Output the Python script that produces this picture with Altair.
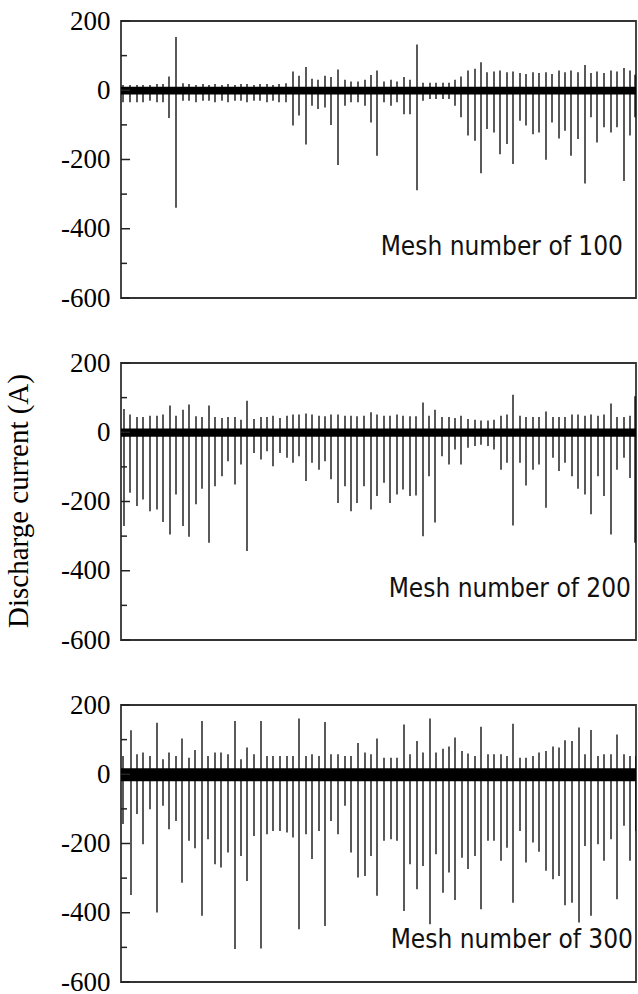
import altair as alt
import pandas as pd

# ---------------- data ----------------
panel_labels = ["Mesh number of 100", "Mesh number of 200", "Mesh number of 300"]

# event times (a.u.), positive peak (A), negative peak (A)
t_100 = [2, 9, 16, 22, 29, 36, 42, 48, 55, 62, 68, 75, 82, 88, 94, 101, 107, 114, 120, 126,
         133, 139, 146, 152, 158, 165, 172, 178, 185, 191, 197, 204, 210, 217, 224, 230, 237, 244, 250, 256,
         263, 270, 276, 283, 289, 296, 302, 309, 315, 322, 328, 334, 340, 347, 354, 360, 366, 373, 379, 386,
         392, 399, 405, 412, 418, 425, 431, 438, 444, 450, 457, 464, 470, 476, 483, 490, 496, 503, 509, 514]
pos_100 = [15, 15, 15, 15, 15, 18, 18, 40, 154, 20, 18, 15, 18, 15, 18, 15, 18, 15, 18, 18,
           15, 18, 18, 15, 18, 20, 54, 42, 67, 33, 30, 42, 38, 60, 30, 25, 25, 30, 44, 57,
           25, 30, 25, 38, 30, 132, 22, 22, 22, 22, 22, 30, 40, 57, 62, 81, 52, 54, 57, 52,
           54, 50, 47, 52, 50, 52, 47, 57, 52, 57, 52, 73, 50, 54, 50, 57, 54, 64, 57, 45]
neg_100 = [-35, -35, -35, -35, -30, -35, -35, -80, -339, -30, -30, -35, -30, -30, -35, -30, -35, -30, -30, -35,
           -30, -30, -35, -30, -35, -35, -102, -73, -157, -45, -54, -50, -100, -216, -45, -35, -35, -45, -93, -189,
           -35, -45, -35, -69, -69, -289, -30, -25, -25, -25, -25, -45, -78, -131, -146, -240, -112, -122, -185, -155,
           -213, -88, -102, -127, -122, -201, -93, -139, -117, -189, -141, -269, -78, -151, -107, -122, -107, -262, -131, -78]

t_200 = [3, 9, 16, 22, 29, 36, 42, 49, 55, 62, 68, 75, 81, 88, 94, 101, 107, 114, 120, 126,
         133, 140, 146, 152, 159, 166, 172, 178, 185, 191, 198, 204, 210, 217, 224, 230, 236, 243, 250, 256,
         263, 269, 276, 282, 289, 295, 302, 308, 314, 321, 328, 334, 340, 347, 354, 360, 367, 373, 380, 386,
         392, 399, 405, 412, 418, 425, 432, 438, 444, 451, 457, 464, 470, 477, 483, 490, 496, 503, 509, 514]
pos_200 = [67, 51, 44, 44, 48, 48, 51, 77, 48, 65, 80, 46, 44, 77, 44, 41, 44, 44, 36, 91,
           38, 44, 44, 48, 41, 48, 51, 51, 54, 51, 48, 46, 51, 51, 48, 48, 46, 48, 58, 51,
           48, 48, 51, 48, 46, 46, 86, 48, 65, 44, 44, 41, 48, 38, 36, 34, 34, 36, 48, 51,
           108, 48, 44, 44, 44, 60, 44, 44, 44, 51, 51, 48, 51, 48, 51, 83, 44, 44, 48, 104]
neg_200 = [-271, -175, -213, -194, -228, -223, -259, -295, -180, -271, -302, -208, -163, -319, -156, -127, -84, -151, -93, -343,
           -60, -79, -55, -98, -60, -74, -88, -69, -141, -88, -108, -84, -136, -204, -156, -228, -204, -156, -223, -184,
           -146, -204, -180, -165, -184, -183, -300, -127, -261, -69, -93, -50, -93, -45, -40, -36, -40, -50, -108, -88,
           -269, -88, -154, -108, -93, -218, -74, -112, -88, -127, -163, -180, -237, -127, -184, -295, -108, -74, -132, -319]

t_300 = [2, 10, 16, 22, 29, 36, 42, 48, 55, 61, 68, 74, 81, 87, 94, 100, 107, 114, 120, 126,
         133, 140, 146, 152, 159, 166, 172, 178, 185, 191, 198, 204, 210, 217, 224, 230, 237, 244, 250, 256,
         263, 270, 276, 283, 289, 296, 302, 309, 315, 322, 328, 334, 341, 347, 354, 360, 367, 373, 380, 386,
         392, 399, 405, 412, 418, 425, 432, 438, 444, 451, 458, 464, 470, 477, 483, 490, 496, 503, 509, 515]
pos_300 = [53, 127, 58, 63, 53, 149, 43, 63, 53, 103, 48, 70, 154, 53, 63, 63, 58, 154, 43, 77,
           58, 154, 53, 53, 53, 53, 53, 161, 53, 58, 53, 151, 58, 58, 53, 53, 90, 63, 58, 103,
           48, 48, 48, 144, 58, 96, 63, 161, 63, 74, 80, 106, 67, 60, 53, 137, 58, 58, 58, 53,
           146, 48, 48, 53, 63, 67, 80, 77, 98, 96, 135, 58, 128, 53, 58, 58, 115, 58, 53, 53]
neg_300 = [-144, -349, -115, -202, -101, -399, -91, -159, -135, -313, -192, -214, -409, -188, -260, -269, -226, -505, -236, -308,
           -178, -503, -173, -164, -164, -168, -183, -448, -173, -245, -164, -438, -135, -173, -91, -226, -298, -294, -236, -351,
           -192, -188, -192, -395, -260, -332, -265, -433, -231, -342, -284, -363, -241, -274, -236, -390, -192, -192, -250, -212,
           -371, -164, -255, -197, -224, -279, -303, -294, -378, -371, -428, -207, -409, -202, -250, -188, -361, -149, -250, -164]

# dense oscillation band around zero (A)
band_hi = [10, 11, 17]
band_lo = [-12, -13, -20]

# annotation anchor (time, current) per panel
label_t = [502, 510, 512]
label_y = [-477, -476, -503]

t_extent = [0, 515]
y_extent = [-600, 200]
y_major = [-600, -400, -200, 0, 200]
y_minor = [-500, -300, -100, 100]

series = [(t_100, pos_100, neg_100), (t_200, pos_200, neg_200), (t_300, pos_300, neg_300)]

SERIF = "Liberation Serif"
SANS = "DejaVu Sans Condensed, DejaVu Sans"


def panel(i):
    t, pos, neg = series[i]
    df = pd.DataFrame({"t": t, "pos": pos, "neg": neg})
    xs = alt.Scale(domain=t_extent, nice=False, zero=False)
    ys = alt.Scale(domain=y_extent, nice=False, zero=False)
    yaxis = alt.Axis(values=y_major, ticks=False, tickSize=0, domain=False, grid=False,
                     labelExpr="datum.value + ''",
                     labelFont=SERIF, labelFontSize=27, labelColor="black",
                     labelPadding=11, title=None)

    band = alt.Chart(pd.DataFrame({"t0": [t_extent[0]], "t1": [t_extent[1]],
                                   "lo": [band_lo[i]], "hi": [band_hi[i]]})).mark_rect(
        color="black", clip=True
    ).encode(
        x=alt.X("t0:Q", scale=xs, axis=None),
        x2="t1:Q",
        y=alt.Y("lo:Q", scale=ys, axis=yaxis),
        y2="hi:Q",
    )

    spikes = alt.Chart(df).mark_rule(color="black", strokeWidth=1.3, clip=True).encode(
        x=alt.X("t:Q", scale=xs, axis=None),
        y=alt.Y("neg:Q", scale=ys, axis=yaxis),
        y2="pos:Q",
    )

    major = alt.Chart(pd.DataFrame({"v": y_major})).mark_rule(color="#222", strokeWidth=1.5).encode(
        y=alt.Y("v:Q", scale=ys, axis=yaxis), x=alt.value(0), x2=alt.value(9)
    )
    minor = alt.Chart(pd.DataFrame({"v": y_minor})).mark_rule(color="#222", strokeWidth=1.5).encode(
        y=alt.Y("v:Q", scale=ys, axis=yaxis), x=alt.value(0), x2=alt.value(6)
    )

    label = alt.Chart(pd.DataFrame({"t": [label_t[i]], "y": [label_y[i]],
                                    "txt": [panel_labels[i]]})).mark_text(
        align="right", baseline="alphabetic", font=SANS, fontSize=26, color="#111"
    ).encode(
        x=alt.X("t:Q", scale=xs, axis=None),
        y=alt.Y("y:Q", scale=ys, axis=yaxis),
        text="txt:N",
    )

    return alt.layer(band, spikes, major, minor, label).properties(width=515, height=277)


chart = alt.vconcat(panel(0), panel(1), panel(2), spacing=36).properties(
    title=alt.TitleParams(
        text="Discharge current (A)", orient="left", anchor="middle",
        font=SERIF, fontSize=29, fontWeight="normal", color="black", offset=26
    ),
    padding={"left": 4, "top": 6, "right": 0, "bottom": 0},
    background="white",
).configure_view(
    stroke="#333", strokeWidth=1.8
)

chart.save("out.html", embed_options={"renderer": "svg", "actions": False})
